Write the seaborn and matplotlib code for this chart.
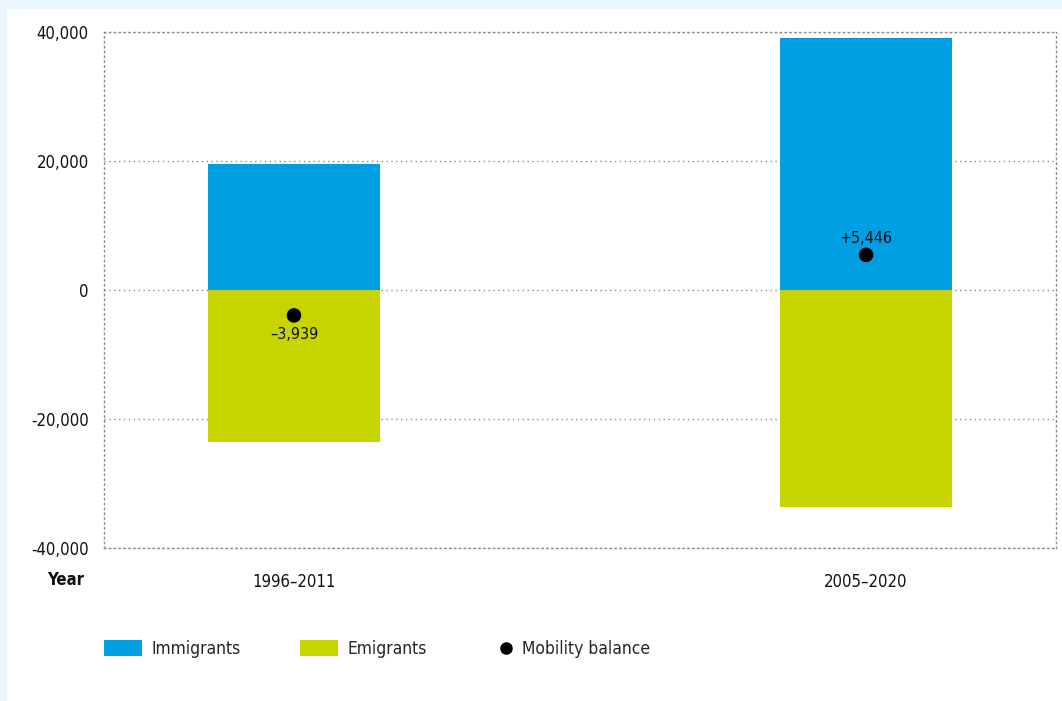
import numpy as np
import pandas as pd
import matplotlib
matplotlib.use("Agg")
import matplotlib.pyplot as plt
from matplotlib.patches import Patch, Rectangle
from matplotlib.lines import Line2D
import seaborn as sns

periods = ["1996–2011", "2005–2020"]
immigrants = [19550, 39070]
emigrants = [23489, 33624]
balance = [-3939, 5446]
balance_labels = ["–3,939", "+5,446"]
y_ticks = [-40000, -20000, 0, 20000, 40000]

blue = "#009fe3"
green = "#c8d400"

sns.set_theme(style="white")
plt.rcParams["font.family"] = ["DejaVu Sans"]
plt.rcParams["font.stretch"] = "condensed"

df = pd.DataFrame({"period": periods, "Immigrants": immigrants,
                   "Emigrants": [-e for e in emigrants], "balance": balance})

fig = plt.figure(figsize=(10.62, 7.01), dpi=100, facecolor="#eaf5fd")
fig.patches.append(Rectangle((7 / 1062, 0), 1, 1 - 9 / 701, transform=fig.transFigure,
                             facecolor="white", edgecolor="none", zorder=-10))
ax = fig.add_axes([104 / 1062, 1 - 548 / 701, 952 / 1062, 516 / 701])
ax.set_facecolor("white")

sns.barplot(data=df, x="period", y="Immigrants", color=blue, width=0.3,
            saturation=1, linewidth=0, ax=ax, zorder=2)
sns.barplot(data=df, x="period", y="Emigrants", color=green, width=0.3,
            saturation=1, linewidth=0, ax=ax, zorder=2)
sns.scatterplot(data=df, x="period", y="balance", color="black", s=110,
                edgecolor="none", ax=ax, zorder=4)

for i, (v, lab) in enumerate(zip(balance, balance_labels)):
    off = -14 if v < 0 else 12
    ax.annotate(lab, (i, v), xytext=(0, off), textcoords="offset points",
                ha="center", va="center", fontsize=11.5, color="#111111", zorder=5)

ax.set_xlim(-0.332, 1.332)
ax.set_ylim(-40000, 40000)
ax.set_yticks(y_ticks)
ax.set_yticklabels([f"{t:,}" for t in y_ticks])
ax.set_xlabel("")
ax.set_ylabel("")
ax.tick_params(axis="y", length=0, pad=11, labelsize=12, labelcolor="#111111")
ax.tick_params(axis="x", length=0, pad=18, labelsize=12, labelcolor="#111111")

ax.yaxis.grid(True, linestyle=(0, (1, 2.5)), color="#8c8c8c", linewidth=1)
ax.set_axisbelow(True)
for side in ["left", "right", "top", "bottom"]:
    ax.spines[side].set_visible(True)
    ax.spines[side].set_linestyle((0, (1, 2.5)))
    ax.spines[side].set_color("#8c8c8c")
    ax.spines[side].set_linewidth(1)

ax.text(-0.021, -0.062, "Year", transform=ax.transAxes, ha="right", va="center",
        fontsize=12, fontweight="bold", color="#111111")

# legend: bar colours, then the balance dot as its own small legend
bar_handles = [Patch(facecolor=blue, edgecolor="none", label="Immigrants"),
               Patch(facecolor=green, edgecolor="none", label="Emigrants")]
leg1 = fig.legend(handles=bar_handles, loc="center left",
                  bbox_to_anchor=(88 / 1062, 1 - 649 / 701),
                  ncol=2, frameon=False, fontsize=12.5, handlelength=2.2,
                  handleheight=1.05, handletextpad=0.55, columnspacing=3.4)
dot_handle = [Line2D([], [], marker="o", color="black", linestyle="none",
                     markersize=8, label="Mobility balance")]
fig.legend(handles=dot_handle, loc="center left",
           bbox_to_anchor=(482 / 1062, 1 - 649 / 701),
           frameon=False, fontsize=12.5, handlelength=1.0, handletextpad=0.4)

fig.savefig("out.png", dpi=100, facecolor=fig.get_facecolor())
